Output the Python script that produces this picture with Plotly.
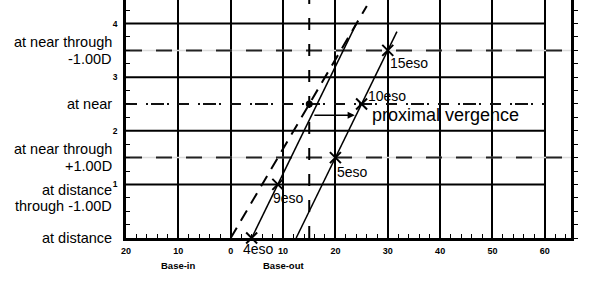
import plotly.graph_objects as go

# ---------------- data ----------------
x_tick_vals = [-20, -10, 0, 10, 20, 30, 40, 50, 60]
x_tick_text = ["20", "10", "0", "10", "20", "30", "40", "50", "60"]
y_tick_vals = [1, 2, 3, 4]
y_tick_text = ["1", "2", "3", "4"]

row_text = [["at near through", "-1.00D"], ["at near"], ["at near through", "+1.00D"],
            ["at distance", "through -1.00D"], ["at distance"]]
row_level = [3.5, 2.5, 1.5, 0.75, 0.0]

grid_levels = [1, 2, 3, 4]
dashed_levels = [1.5, 3.5]
dashdot_levels = [2.5]

eso_x = [4, 9, 20, 25, 30]
eso_y = [0, 1, 1.5, 2.5, 3.5]
eso_text = ["4eso", "9eso", "5eso", "10eso", "15eso"]

lineA_x = [4, 24]
lineA_y = [0, 4.0]
lineB_x = [12.5, 31.75]
lineB_y = [0, 3.85]
demand_x = [0, 26]
demand_y = [0, 4.33]
stim_x = [15, 15]
stim_y = [0, 4.44]
dot_x = [15]
dot_y = [2.5]
arrow_x = [15.7, 23.7]
arrow_y = [2.29, 2.29]
arrow_label = "proximal vergence"

X_MIN, X_GRID_MAX, X_MAX = -20, 60, 65
Y_MAX = 4.44

FONT = "Liberation Sans, Arial, sans-serif"


def hlines(levels, x0, x1):
    xs, ys = [], []
    for v in levels:
        xs += [x0, x1, None]
        ys += [v, v, None]
    return xs, ys


fig = go.Figure()

# light underlay for dashed horizontals
hx, hy = hlines(dashed_levels, X_MIN, X_MAX)
fig.add_trace(go.Scatter(x=hx, y=hy, mode="lines", line=dict(color="#dcdcdc", width=1.5),
                         hoverinfo="skip", showlegend=False))
fig.add_trace(go.Scatter(x=hx, y=hy, mode="lines", line=dict(color="#222", width=2, dash="16px,14px"),
                         hoverinfo="skip", showlegend=False))
# solid horizontal grid lines
gx, gy = hlines(grid_levels, X_MIN, X_GRID_MAX)
fig.add_trace(go.Scatter(x=gx, y=gy, mode="lines", line=dict(color="black", width=2),
                         hoverinfo="skip", showlegend=False))
# dash-dot line
dx, dy = hlines(dashdot_levels, X_MIN, X_GRID_MAX)
fig.add_trace(go.Scatter(x=dx, y=dy, mode="lines",
                         line=dict(color="#111", width=2, dash="11px,9px,2px,3px,13px,3px,2px,9px"),
                         hoverinfo="skip", showlegend=False))
# vertical dashed stimulus line
fig.add_trace(go.Scatter(x=stim_x, y=stim_y, mode="lines", line=dict(color="black", width=2, dash="12px,14px"),
                         hoverinfo="skip", showlegend=False))
# demand line (dashed diagonal)
fig.add_trace(go.Scatter(x=demand_x, y=demand_y, mode="lines", line=dict(color="black", width=2, dash="12px,8px"),
                         hoverinfo="skip", showlegend=False))
# phoria lines
fig.add_trace(go.Scatter(x=lineA_x, y=lineA_y, mode="lines", line=dict(color="black", width=1.5),
                         hoverinfo="skip", showlegend=False))
fig.add_trace(go.Scatter(x=lineB_x, y=lineB_y, mode="lines", line=dict(color="black", width=1.5),
                         hoverinfo="skip", showlegend=False))
# eso markers
fig.add_trace(go.Scatter(x=eso_x, y=eso_y, mode="markers",
                         marker=dict(symbol="x-thin", size=11, line=dict(color="black", width=2)),
                         hoverinfo="skip", showlegend=False, cliponaxis=False))
# stimulus dot
fig.add_trace(go.Scatter(x=dot_x, y=dot_y, mode="markers",
                         marker=dict(symbol="circle", size=7, color="black"),
                         hoverinfo="skip", showlegend=False))
# activate right axis
fig.add_trace(go.Scatter(x=[None], y=[None], yaxis="y2", showlegend=False, hoverinfo="skip"))

annotations = []
# row labels on the left
for lines, lvl in zip(row_text, row_level):
    n = len(lines)
    for i, t in enumerate(lines):
        shift = (n - 1) / 2 * 16.6 - i * 16.6
        annotations.append(dict(text=t, xref="paper", yref="y", x=-12 / 445, y=lvl,
                                xanchor="right", yanchor="middle", yshift=shift, showarrow=False,
                                font=dict(family=FONT, size=14.5, color="black")))

# eso labels
eso_shift = [(-10, -11), (-6, -13.5), (1, -14), (5, 8), (1, -13)]
for x, y, t, (sx, sy) in zip(eso_x, eso_y, eso_text, eso_shift):
    annotations.append(dict(text=t, x=x, y=y, xref="x", yref="y", xanchor="left", yanchor="middle",
                            xshift=sx, yshift=sy, showarrow=False, borderpad=0,
                            font=dict(family=FONT, size=14, color="black")))

# arrow
annotations.append(dict(x=arrow_x[1], y=arrow_y[1], ax=arrow_x[0], ay=arrow_y[0], xref="x", yref="y",
                        axref="x", ayref="y", showarrow=True, arrowhead=2, arrowsize=1.1,
                        arrowwidth=1.3, arrowcolor="black", text=""))
annotations.append(dict(text=arrow_label, x=arrow_x[1], y=arrow_y[1], xref="x", yref="y",
                        xanchor="left", yanchor="middle", xshift=16, yshift=0.5, showarrow=False,
                        borderpad=0, font=dict(family=FONT, size=18, color="black")))

# axis titles
annotations.append(dict(text="<b>Base-in</b>", x=-10, y=0, xref="x", yref="paper", yshift=-27,
                        xanchor="center", yanchor="middle", showarrow=False,
                        font=dict(family=FONT, size=9.5, color="black")))
annotations.append(dict(text="<b>Base-out</b>", x=10, y=0, xref="x", yref="paper", yshift=-27,
                        xanchor="center", yanchor="middle", showarrow=False,
                        font=dict(family=FONT, size=9.5, color="black")))
annotations.append(dict(text="↵", x=66, y=0, xref="x", yref="paper", yshift=-29,
                        xanchor="center", yanchor="middle", showarrow=False,
                        font=dict(family=FONT, size=11, color="#999")))

fig.update_layout(
    width=615, height=293,
    margin=dict(l=126, r=44, t=0, b=55),
    paper_bgcolor="white", plot_bgcolor="white",
    showlegend=False,
    annotations=annotations,
    xaxis=dict(range=[X_MIN, X_MAX], tickmode="array", tickvals=x_tick_vals, ticktext=x_tick_text,
               showline=True, linecolor="black", linewidth=2.5,
               showgrid=True, gridcolor="black", gridwidth=2, zeroline=False,
               ticks="inside", ticklen=4, tickwidth=1.2, tickcolor="black",
               minor=dict(dtick=2, tick0=0, ticks="inside", ticklen=4, tickwidth=1.2,
                          tickcolor="black", showgrid=False),
               tickfont=dict(family=FONT, size=9, color="black", weight="bold"),
               ticklabelstandoff=2, fixedrange=True),
    yaxis=dict(range=[0, Y_MAX], tickmode="array", tickvals=y_tick_vals, ticktext=y_tick_text,
               showline=True, linecolor="black", linewidth=2.5,
               showgrid=False, zeroline=False,
               ticks="inside", ticklen=4, tickwidth=1.2, tickcolor="black",
               minor=dict(dtick=0.25, tick0=0, ticks="inside", ticklen=4, tickwidth=1.2,
                          tickcolor="black", showgrid=False),
               tickfont=dict(family=FONT, size=8.5, color="black", weight="bold"),
               ticklabelstandoff=4, fixedrange=True),
    yaxis2=dict(range=[0, Y_MAX], overlaying="y", side="right", anchor="x",
                showline=True, linecolor="black", linewidth=2.5, showgrid=False, zeroline=False,
                tickmode="linear", tick0=0, dtick=0.25, ticks="outside", ticklen=4, tickwidth=1.2,
                tickcolor="black", showticklabels=False, fixedrange=True),
)

fig.write_html("out.html")
